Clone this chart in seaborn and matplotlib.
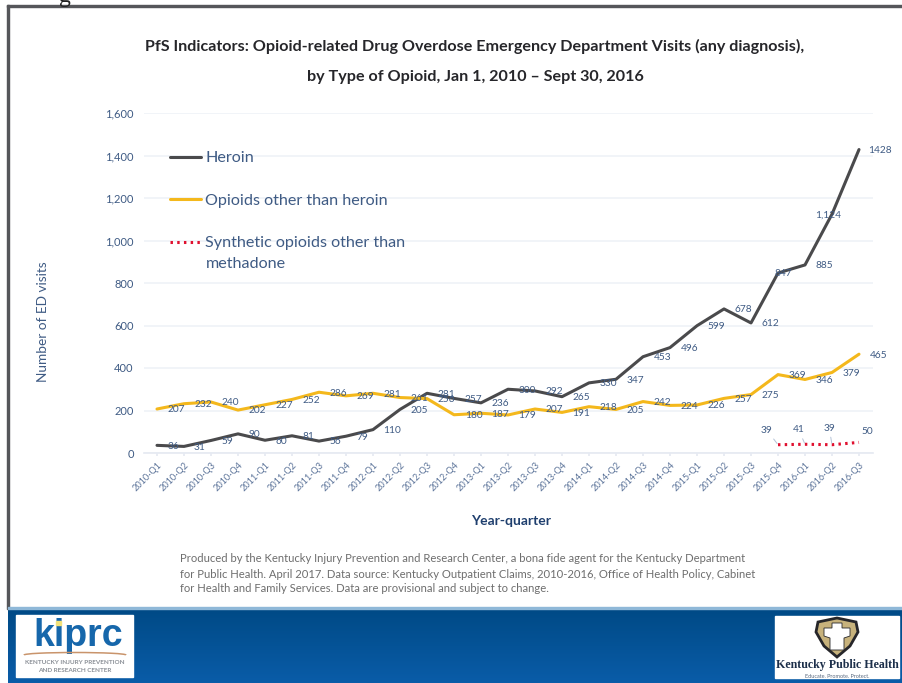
import numpy as np
import pandas as pd
import seaborn as sns
import matplotlib.pyplot as plt
from matplotlib.patches import Rectangle, Polygon, Arc

quarters = ["2010-Q1", "2010-Q2", "2010-Q3", "2010-Q4",
            "2011-Q1", "2011-Q2", "2011-Q3", "2011-Q4",
            "2012-Q1", "2012-Q2", "2012-Q3", "2012-Q4",
            "2013-Q1", "2013-Q2", "2013-Q3", "2013-Q4",
            "2014-Q1", "2014-Q2", "2014-Q3", "2014-Q4",
            "2015-Q1", "2015-Q2", "2015-Q3", "2015-Q4",
            "2016-Q1", "2016-Q2", "2016-Q3"]
heroin = [36, 31, 59, 90, 60, 81, 56, 79, 110, 205, 281, 257, 236, 300, 292, 265,
          330, 347, 453, 496, 599, 678, 612, 847, 885, 1124, 1428]
other = [207, 232, 240, 202, 227, 252, 286, 269, 281, 261, 256, 180, 187, 179, 207, 191,
         218, 205, 242, 224, 226, 257, 275, 369, 346, 379, 465]
synth_quarters = ["2015-Q4", "2016-Q1", "2016-Q2", "2016-Q3"]
synth = [39, 41, 39, 50]
heroin_text = ["36", "31", "59", "90", "60", "81", "56", "79", "110", "205", "281", "257",
               "236", "300", "292", "265", "330", "347", "453", "496", "599", "678", "612",
               "847", "885", "1,124", "1428"]

HEROIN = "Heroin"
OTHER = "Opioids other than heroin"
SYNTH = "Synthetic opioids other than\nmethadone"

NAVY = "#3f5b84"
W, H = 902, 683

df = pd.concat([
    pd.DataFrame({"quarter": quarters, "visits": heroin, "type": HEROIN}),
    pd.DataFrame({"quarter": quarters, "visits": other, "type": OTHER}),
    pd.DataFrame({"quarter": synth_quarters, "visits": synth, "type": SYNTH}),
])

sns.set_theme(style="white")
plt.rcParams["font.family"] = ["Lato", "DejaVu Sans"]

fig = plt.figure(figsize=(W / 100, H / 100), dpi=100)
ax = fig.add_axes([143.5 / W, 1 - 453 / H, 729 / W, 340 / H])

sns.lineplot(
    data=df, x="quarter", y="visits", hue="type", style="type",
    hue_order=[HEROIN, OTHER, SYNTH], style_order=[HEROIN, OTHER, SYNTH],
    palette=["#4a4a4c", "#f4b81c", "#e0102f"],
    dashes=[(None, None), (None, None), (0.8, 1.4)],
    linewidth=2.2, sort=False, ax=ax,
)

ax.set_xlim(-0.5, 26.5)
ax.set_ylim(0, 1600)
ax.set_yticks(range(0, 1601, 200))
ax.set_yticklabels([f"{v:,}" for v in range(0, 1601, 200)])
ax.grid(axis="y", color="#eef1f7", linewidth=1.1)
ax.set_axisbelow(True)
sns.despine(ax=ax, left=True)
ax.spines["bottom"].set_color("#e6eaf2")
ax.tick_params(axis="y", length=0, labelsize=8, labelcolor=NAVY, pad=7)
ax.tick_params(axis="x", length=2.5, color="#e6eaf2", labelsize=6.6, labelcolor="#5b7399",
               pad=3, bottom=True)
plt.setp(ax.get_xticklabels(), rotation=45, ha="right", rotation_mode="anchor")

ax.set_xlabel("Year-quarter", fontsize=10, fontweight="bold", color="#1f3f6e")
ax.xaxis.set_label_coords((511 - 143.5) / 729, -62 / 340)
ax.set_ylabel("Number of ED visits", fontsize=9.8, color=NAVY)
ax.yaxis.set_label_coords((49 - 143.5) / 729, 0.5 - (322 - 283) / 340)

# value labels sit to the right of their point
for i, (v, t) in enumerate(zip(heroin, heroin_text)):
    dx = 11.5 if i < 8 else 14
    if t == "847":
        dx = 4
    if t == "1,124":
        dx = -3
    if t == "1428":
        dx = 15
    ax.annotate(t, (i, v), xytext=(dx, -0.6), textcoords="offset points", ha="center",
                va="center", fontsize=7.3, color=NAVY)
for i, v in enumerate(other):
    ax.annotate(str(v), (i, v), xytext=(14, -0.6), textcoords="offset points", ha="center",
                va="center", fontsize=7.3, color=NAVY)
for q, v, off in zip(synth_quarters, synth, [(-8, 10.5), (-4.5, 10.5), (-2, 12), (6, 8)]):
    ax.annotate(str(v), (quarters.index(q), v), xytext=off, textcoords="offset points", ha="center",
                va="center", fontsize=7.3, color=NAVY,
                arrowprops=dict(arrowstyle="-", color="#b4c2d6", lw=0.7, shrinkA=1, shrinkB=1)
                if q != "2016-Q3" else None)

handles, labels = ax.get_legend_handles_labels()
leg = ax.legend(handles, labels, loc="upper left", bbox_to_anchor=((170 - 143.5) / 729, 1 - (151 - 113) / 340),
                borderaxespad=0, frameon=False, fontsize=11.6, labelcolor=NAVY, handlelength=1.9,
                handletextpad=0.3, labelspacing=1.75, borderpad=0, title=None)
for t in leg.get_texts():
    t.set_linespacing(1.65)
# the dotted key lines up with the first line of its two-line label
syn_key = leg.get_lines()[2]
syn_key.set_ydata(np.asarray(syn_key.get_ydata()) + 8)

# everything else is placed in pixels of the slide
page = fig.add_axes([0, 0, 1, 1], zorder=-1)
page.set_xlim(0, W)
page.set_ylim(H, 0)
page.axis("off")

page.add_patch(Rectangle((7, 5), W, 2.2, color="#55565a"))
page.add_patch(Rectangle((7, 5), 2.2, 604, color="#55565a"))
page.imshow(np.linspace(0, 1, 64).reshape(-1, 1), extent=(8, W, H, 609), aspect="auto",
            cmap=plt.matplotlib.colors.LinearSegmentedColormap.from_list("b", ["#004a86", "#0a5ca8"]))
page.set_xlim(0, W)
page.set_ylim(H, 0)
page.add_patch(Rectangle((8, 607), W, 2, color="#8fb8d8"))
page.text(65, -3.5, "g", family="Liberation Serif", fontsize=17, ha="center", va="center", color="#222222")

page.text(475, 46, "PfS Indicators: Opioid-related Drug Overdose Emergency Department Visits (any diagnosis),",
          ha="center", va="center", fontsize=11.65, fontweight="bold", color="#26262a")
page.text(475, 77, "by Type of Opioid, Jan 1, 2010 \u2013 Sept 30, 2016",
          ha="center", va="center", fontsize=11.65, fontweight="bold", color="#26262a")

note = ["Produced by the Kentucky Injury Prevention and Research Center, a bona fide agent for the Kentucky Department",
        "for Public Health. April 2017. Data source: Kentucky Outpatient Claims, 2010-2016, Office of Health Policy, Cabinet",
        "for Health and Family Services. Data are provisional and subject to change."]
for y, line in zip([558, 574, 589], note):
    page.text(180, y, line, va="center", fontsize=8.13, color="#6e6e6e")

# KIPRC logo
page.add_patch(Rectangle((16, 615), 117, 62, color="white", zorder=3))
page.text(78, 636, "kiprc", ha="center", va="center", fontsize=27, fontweight="bold", color="#1667ab", zorder=4,
          family="Liberation Sans")
page.add_patch(Rectangle((56, 621), 5, 4, color="#f3e27a", zorder=5))
page.add_patch(Arc((75, 655), 102, 5, theta1=180, theta2=360, color="#c9946b", lw=1.1, zorder=4))
page.text(75, 663, "KENTUCKY INJURY PREVENTION", ha="center", va="center", fontsize=4.6,
          fontweight="bold", color="#8a8f96", zorder=4)
page.text(75, 671, "AND RESEARCH CENTER", ha="center", va="center", fontsize=4.6,
          fontweight="bold", color="#8a8f96", zorder=4)

# Kentucky Public Health logo
page.add_patch(Rectangle((775, 616), 124, 62, color="white", zorder=3))
page.add_patch(Polygon([(837, 618), (856, 622), (858, 632), (850, 646), (837, 657), (824, 646), (816, 632), (818, 622)],
                       closed=True, facecolor="#c7b27c", edgecolor="#26262a", lw=2, zorder=4))
page.add_patch(Polygon([(832, 623), (842, 623), (842, 628), (850, 628), (850, 636), (844, 638), (844, 650),
                        (830, 650), (830, 638), (824, 636), (824, 628), (832, 628)],
                       closed=True, facecolor="white", edgecolor="#26262a", lw=0.6, zorder=5))
page.text(837, 665, "Kentucky Public Health", ha="center", va="center", fontsize=8.6, fontweight="bold",
          family="Liberation Serif", color="#1c2f4a", zorder=4)
page.text(837, 676, "Educate. Promote. Protect.", ha="center", va="center", fontsize=4, color="#5a6a80", zorder=4)

fig.savefig("out.png", dpi=100)
